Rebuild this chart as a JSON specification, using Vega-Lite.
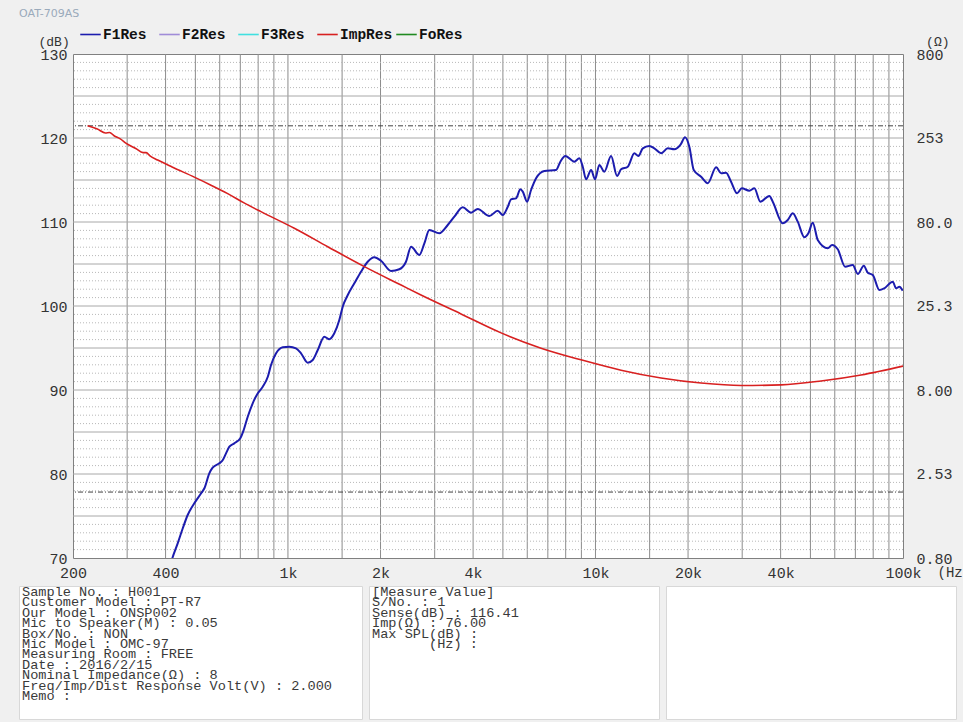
{
  "$schema": "https://vega.github.io/schema/vega-lite/v6.json",
  "background": "#f0f0f0",
  "padding": {"left": 18, "top": 7, "right": 0, "bottom": 2},
  "title": {"text": "OAT-709AS", "anchor": "start", "frame": "group", "font": "DejaVu Sans", "fontSize": 11, "fontWeight": "normal", "color": "#9aaabb", "offset": 4},
  "config": {
    "font": "Liberation Mono",
    "view": {"stroke": null},
    "axis": {"grid": false, "ticks": false, "domain": false, "labelFont": "Liberation Mono", "labelFontSize": 15, "labelColor": "#333333", "titleFont": "Liberation Mono", "titleFontSize": 13, "titleColor": "#333333", "titleFontWeight": "normal"}
  },
  "datasets": {
    "f1": [
      {"f": 410, "db": 68.5, "s": "F1Res"}, {"f": 421, "db": 70.0, "s": "F1Res"}, {"f": 438, "db": 71.75, "s": "F1Res"}, {"f": 455, "db": 73.54, "s": "F1Res"}, {"f": 472, "db": 75.12, "s": "F1Res"}, {"f": 496, "db": 76.51, "s": "F1Res"}, {"f": 522, "db": 77.7, "s": "F1Res"}, {"f": 535, "db": 78.3, "s": "F1Res"}, {"f": 555, "db": 80.08, "s": "F1Res"}, {"f": 569, "db": 80.75, "s": "F1Res"}, {"f": 598, "db": 81.27, "s": "F1Res"}, {"f": 614, "db": 81.67, "s": "F1Res"}, {"f": 629, "db": 82.46, "s": "F1Res"}, {"f": 645, "db": 83.25, "s": "F1Res"}, {"f": 669, "db": 83.65, "s": "F1Res"}, {"f": 700, "db": 84.25, "s": "F1Res"}, {"f": 718, "db": 85.24, "s": "F1Res"}, {"f": 740, "db": 86.82, "s": "F1Res"}, {"f": 768, "db": 88.42, "s": "F1Res"}, {"f": 798, "db": 89.61, "s": "F1Res"}, {"f": 828, "db": 90.39, "s": "F1Res"}, {"f": 860, "db": 91.58, "s": "F1Res"}, {"f": 881, "db": 92.98, "s": "F1Res"}, {"f": 915, "db": 94.37, "s": "F1Res"}, {"f": 962, "db": 95.08, "s": "F1Res"}, {"f": 1010, "db": 95.15, "s": "F1Res"}, {"f": 1062, "db": 94.96, "s": "F1Res"}, {"f": 1103, "db": 94.37, "s": "F1Res"}, {"f": 1160, "db": 93.25, "s": "F1Res"}, {"f": 1204, "db": 93.57, "s": "F1Res"}, {"f": 1250, "db": 94.76, "s": "F1Res"}, {"f": 1313, "db": 96.35, "s": "F1Res"}, {"f": 1363, "db": 96.04, "s": "F1Res"}, {"f": 1415, "db": 96.75, "s": "F1Res"}, {"f": 1469, "db": 98.33, "s": "F1Res"}, {"f": 1507, "db": 99.92, "s": "F1Res"}, {"f": 1565, "db": 101.31, "s": "F1Res"}, {"f": 1644, "db": 102.7, "s": "F1Res"}, {"f": 1728, "db": 104.08, "s": "F1Res"}, {"f": 1817, "db": 105.27, "s": "F1Res"}, {"f": 1909, "db": 105.8, "s": "F1Res"}, {"f": 2007, "db": 105.39, "s": "F1Res"}, {"f": 2164, "db": 104.17, "s": "F1Res"}, {"f": 2302, "db": 104.37, "s": "F1Res"}, {"f": 2420, "db": 105.27, "s": "F1Res"}, {"f": 2514, "db": 107.06, "s": "F1Res"}, {"f": 2675, "db": 106.07, "s": "F1Res"}, {"f": 2777, "db": 107.46, "s": "F1Res"}, {"f": 2882, "db": 109.05, "s": "F1Res"}, {"f": 3106, "db": 108.65, "s": "F1Res"}, {"f": 3308, "db": 109.64, "s": "F1Res"}, {"f": 3476, "db": 110.63, "s": "F1Res"}, {"f": 3702, "db": 111.75, "s": "F1Res"}, {"f": 3940, "db": 111.11, "s": "F1Res"}, {"f": 4141, "db": 111.55, "s": "F1Res"}, {"f": 4517, "db": 110.71, "s": "F1Res"}, {"f": 4811, "db": 111.35, "s": "F1Res"}, {"f": 4994, "db": 110.83, "s": "F1Res"}, {"f": 5186, "db": 111.82, "s": "F1Res"}, {"f": 5315, "db": 112.7, "s": "F1Res"}, {"f": 5518, "db": 112.82, "s": "F1Res"}, {"f": 5698, "db": 113.89, "s": "F1Res"}, {"f": 5802, "db": 113.61, "s": "F1Res"}, {"f": 5992, "db": 112.42, "s": "F1Res"}, {"f": 6174, "db": 113.81, "s": "F1Res"}, {"f": 6410, "db": 115.2, "s": "F1Res"}, {"f": 6820, "db": 116.07, "s": "F1Res"}, {"f": 7444, "db": 116.19, "s": "F1Res"}, {"f": 7688, "db": 117.18, "s": "F1Res"}, {"f": 7981, "db": 117.86, "s": "F1Res"}, {"f": 8536, "db": 117.18, "s": "F1Res"}, {"f": 8862, "db": 117.58, "s": "F1Res"}, {"f": 9092, "db": 116.58, "s": "F1Res"}, {"f": 9321, "db": 115.08, "s": "F1Res"}, {"f": 9677, "db": 116.19, "s": "F1Res"}, {"f": 9970, "db": 115.08, "s": "F1Res"}, {"f": 10294, "db": 116.79, "s": "F1Res"}, {"f": 10688, "db": 115.99, "s": "F1Res"}, {"f": 11238, "db": 117.86, "s": "F1Res"}, {"f": 11755, "db": 115.48, "s": "F1Res"}, {"f": 12112, "db": 116.27, "s": "F1Res"}, {"f": 12736, "db": 116.58, "s": "F1Res"}, {"f": 13382, "db": 118.18, "s": "F1Res"}, {"f": 13789, "db": 117.86, "s": "F1Res"}, {"f": 14250, "db": 118.77, "s": "F1Res"}, {"f": 14970, "db": 119.05, "s": "F1Res"}, {"f": 15542, "db": 118.77, "s": "F1Res"}, {"f": 16342, "db": 118.18, "s": "F1Res"}, {"f": 17180, "db": 118.77, "s": "F1Res"}, {"f": 18050, "db": 118.65, "s": "F1Res"}, {"f": 18883, "db": 119.17, "s": "F1Res"}, {"f": 19555, "db": 120.08, "s": "F1Res"}, {"f": 20194, "db": 118.96, "s": "F1Res"}, {"f": 20870, "db": 116.19, "s": "F1Res"}, {"f": 22048, "db": 115.39, "s": "F1Res"}, {"f": 23181, "db": 114.61, "s": "F1Res"}, {"f": 24677, "db": 116.51, "s": "F1Res"}, {"f": 25615, "db": 115.8, "s": "F1Res"}, {"f": 26589, "db": 115.87, "s": "F1Res"}, {"f": 27600, "db": 114.8, "s": "F1Res"}, {"f": 28874, "db": 113.42, "s": "F1Res"}, {"f": 29905, "db": 114.01, "s": "F1Res"}, {"f": 31647, "db": 113.73, "s": "F1Res"}, {"f": 32856, "db": 114.01, "s": "F1Res"}, {"f": 34366, "db": 112.42, "s": "F1Res"}, {"f": 36768, "db": 113.1, "s": "F1Res"}, {"f": 37713, "db": 112.42, "s": "F1Res"}, {"f": 40640, "db": 109.85, "s": "F1Res"}, {"f": 42200, "db": 110.24, "s": "F1Res"}, {"f": 43810, "db": 111.04, "s": "F1Res"}, {"f": 45470, "db": 110.04, "s": "F1Res"}, {"f": 47790, "db": 108.18, "s": "F1Res"}, {"f": 49240, "db": 108.65, "s": "F1Res"}, {"f": 50890, "db": 109.92, "s": "F1Res"}, {"f": 52820, "db": 107.86, "s": "F1Res"}, {"f": 56940, "db": 106.87, "s": "F1Res"}, {"f": 58800, "db": 107.26, "s": "F1Res"}, {"f": 61360, "db": 106.75, "s": "F1Res"}, {"f": 64820, "db": 104.68, "s": "F1Res"}, {"f": 68660, "db": 104.88, "s": "F1Res"}, {"f": 71290, "db": 103.81, "s": "F1Res"}, {"f": 74560, "db": 104.8, "s": "F1Res"}, {"f": 76830, "db": 103.96, "s": "F1Res"}, {"f": 79760, "db": 103.69, "s": "F1Res"}, {"f": 83780, "db": 101.9, "s": "F1Res"}, {"f": 86980, "db": 102.11, "s": "F1Res"}, {"f": 92640, "db": 102.89, "s": "F1Res"}, {"f": 94950, "db": 102.11, "s": "F1Res"}, {"f": 97340, "db": 102.3, "s": "F1Res"}, {"f": 99800, "db": 101.82, "s": "F1Res"}
    ],
    "imp": [
      {"f": 223, "ohm": 299, "s": "ImpRes"}, {"f": 240, "ohm": 286, "s": "ImpRes"}, {"f": 255, "ohm": 271, "s": "ImpRes"}, {"f": 263, "ohm": 273, "s": "ImpRes"}, {"f": 272, "ohm": 261, "s": "ImpRes"}, {"f": 285, "ohm": 250, "s": "ImpRes"}, {"f": 297, "ohm": 236, "s": "ImpRes"}, {"f": 320, "ohm": 219, "s": "ImpRes"}, {"f": 338, "ohm": 207, "s": "ImpRes"}, {"f": 346, "ohm": 207, "s": "ImpRes"}, {"f": 356, "ohm": 198, "s": "ImpRes"}, {"f": 377, "ohm": 187, "s": "ImpRes"}, {"f": 420, "ohm": 170, "s": "ImpRes"}, {"f": 496, "ohm": 148, "s": "ImpRes"}, {"f": 560, "ohm": 133, "s": "ImpRes"}, {"f": 637, "ohm": 118, "s": "ImpRes"}, {"f": 720, "ohm": 104, "s": "ImpRes"}, {"f": 817, "ohm": 92.2, "s": "ImpRes"}, {"f": 1049, "ohm": 73.4, "s": "ImpRes"}, {"f": 1347, "ohm": 57.0, "s": "ImpRes"}, {"f": 1772, "ohm": 43.4, "s": "ImpRes"}, {"f": 2333, "ohm": 33.7, "s": "ImpRes"}, {"f": 2708, "ohm": 29.4, "s": "ImpRes"}, {"f": 3654, "ohm": 22.7, "s": "ImpRes"}, {"f": 4932, "ohm": 17.5, "s": "ImpRes"}, {"f": 6654, "ohm": 14.2, "s": "ImpRes"}, {"f": 8974, "ohm": 12.1, "s": "ImpRes"}, {"f": 12112, "ohm": 10.5, "s": "ImpRes"}, {"f": 16342, "ohm": 9.43, "s": "ImpRes"}, {"f": 22048, "ohm": 8.8, "s": "ImpRes"}, {"f": 29740, "ohm": 8.51, "s": "ImpRes"}, {"f": 40140, "ohm": 8.58, "s": "ImpRes"}, {"f": 54140, "ohm": 9.05, "s": "ImpRes"}, {"f": 73040, "ohm": 9.83, "s": "ImpRes"}, {"f": 100000, "ohm": 11.1, "s": "ImpRes"}
    ]
  },
  "concat": [
    {
      "hconcat": [
        {
          "width": 18,
          "height": 1,
          "data": {"values": [{"t": ""}]},
          "mark": {"type": "text"},
          "encoding": {"text": {"field": "t"}}
        },
        {
          "width": 830,
          "height": 504,
          "view": {"fill": "white", "stroke": "#808080"},
          "layer": [
            {
              "layer": [
                {
                  "data": {"values": [{"f": 300}, {"f": 400}, {"f": 500}, {"f": 600}, {"f": 700}, {"f": 800}, {"f": 900}, {"f": 1000}, {"f": 1500}, {"f": 2000}, {"f": 3000}, {"f": 4000}, {"f": 5000}, {"f": 6000}, {"f": 7000}, {"f": 8000}, {"f": 9000}, {"f": 10000}, {"f": 15000}, {"f": 20000}, {"f": 30000}, {"f": 40000}, {"f": 50000}, {"f": 60000}, {"f": 70000}, {"f": 80000}, {"f": 90000}]},
                  "mark": {"type": "rule", "color": "#8c8c8c", "strokeWidth": 1},
                  "encoding": {"x": {"field": "f", "type": "quantitative", "scale": {"type": "log", "domain": [200, 100000], "nice": false}}}
                },
                {
                  "data": {"values": [{"db": 71}, {"db": 72}, {"db": 73}, {"db": 74}, {"db": 76}, {"db": 77}, {"db": 78}, {"db": 79}, {"db": 81}, {"db": 82}, {"db": 83}, {"db": 84}, {"db": 86}, {"db": 87}, {"db": 88}, {"db": 89}, {"db": 91}, {"db": 92}, {"db": 93}, {"db": 94}, {"db": 96}, {"db": 97}, {"db": 98}, {"db": 99}, {"db": 101}, {"db": 102}, {"db": 103}, {"db": 104}, {"db": 106}, {"db": 107}, {"db": 108}, {"db": 109}, {"db": 111}, {"db": 112}, {"db": 113}, {"db": 114}, {"db": 116}, {"db": 117}, {"db": 118}, {"db": 119}, {"db": 121}, {"db": 122}, {"db": 123}, {"db": 124}, {"db": 126}, {"db": 127}, {"db": 128}, {"db": 129}]},
                  "mark": {"type": "rule", "color": "#b8b8b8", "strokeWidth": 1, "strokeDash": [1, 2]},
                  "encoding": {"y": {"field": "db", "type": "quantitative", "scale": {"domain": [70, 130], "nice": false, "zero": false}}}
                },
                {
                  "data": {"values": [{"db": 75}, {"db": 80}, {"db": 85}, {"db": 90}, {"db": 95}, {"db": 100}, {"db": 105}, {"db": 110}, {"db": 115}, {"db": 120}, {"db": 125}]},
                  "mark": {"type": "rule", "color": "#a8a8a8", "strokeWidth": 1},
                  "encoding": {"y": {"field": "db", "type": "quantitative", "scale": {"domain": [70, 130], "nice": false, "zero": false}}}
                },
                {
                  "data": {"values": [{"db": 121.45}, {"db": 77.85}]},
                  "mark": {"type": "rule", "color": "#404040", "strokeWidth": 1, "strokeDash": [5, 2, 1, 2]},
                  "encoding": {"y": {"field": "db", "type": "quantitative", "scale": {"domain": [70, 130], "nice": false, "zero": false}}}
                },
                {
                  "data": {"name": "f1"},
                  "mark": {"type": "line", "strokeWidth": 2, "clip": true, "interpolate": "monotone"},
                  "encoding": {
                    "x": {"field": "f", "type": "quantitative", "scale": {"type": "log", "domain": [200, 100000], "nice": false},
                      "axis": {"values": [200, 400, 1000, 2000, 4000, 10000, 20000, 40000, 100000], "labelExpr": "datum.value >= 1000 ? (datum.value / 1000) + 'k' : '' + datum.value", "labelPadding": 7, "labelFlush": false, "labelOverlap": false, "title": "(Hz", "titleX": 864, "titleY": 14, "titleAlign": "left", "titleBaseline": "middle", "titleFontSize": 14}},
                    "y": {"field": "db", "type": "quantitative", "scale": {"domain": [70, 130], "nice": false, "zero": false},
                      "axis": {"values": [70, 80, 90, 100, 110, 120, 130], "labelPadding": 6, "labelOverlap": false, "title": "(dB)", "titleAngle": 0, "titleX": -35, "titleY": -13, "titleAlign": "left", "titleBaseline": "middle"}},
                    "color": {"field": "s", "type": "nominal",
                      "scale": {"domain": ["F1Res", "F2Res", "F3Res", "ImpRes", "FoRes"], "range": ["#1c1cae", "#a08cd8", "#40e0e0", "#d82020", "#208a20"]},
                      "legend": {"title": null, "orient": "none", "legendX": 6, "legendY": -31, "direction": "horizontal", "columns": 5, "gridAlign": "all", "columnPadding": 0, "symbolType": "stroke", "symbolSize": 420, "symbolStrokeWidth": 1.6, "labelFont": "Liberation Mono", "labelFontWeight": "bold", "labelFontSize": 14.5, "labelColor": "#111111", "labelOffset": 1, "padding": 0}}
                  }
                }
              ]
            },
            {
              "data": {"name": "imp"},
              "mark": {"type": "line", "strokeWidth": 1.6, "clip": true, "interpolate": "monotone"},
              "encoding": {
                "x": {"field": "f", "type": "quantitative", "scale": {"type": "log", "domain": [200, 100000], "nice": false}},
                "y": {"field": "ohm", "type": "quantitative", "scale": {"type": "log", "domain": [0.8, 800], "nice": false},
                  "axis": {"orient": "right", "values": [0.8, 2.53, 8, 25.3, 80, 253, 800], "labelExpr": "datum.value < 1 ? '0.80' : format(datum.value, '.3r')", "labelAlign": "left", "labelPadding": 13, "labelOverlap": false, "title": "(Ω)", "titleAngle": 0, "titleX": 46, "titleY": -13, "titleAlign": "right", "titleBaseline": "middle"}},
                "color": {"field": "s", "type": "nominal", "scale": {"domain": ["F1Res", "F2Res", "F3Res", "ImpRes", "FoRes"], "range": ["#1c1cae", "#a08cd8", "#40e0e0", "#d82020", "#208a20"]}}
              }
            }
          ],
          "resolve": {"scale": {"y": "independent"}}
        }
      ],
      "spacing": 0,
      "resolve": {"scale": {"color": "independent"}, "legend": {"color": "independent"}}
    },
    {
      "hconcat": [
        {
          "width": 343,
          "height": 133,
          "view": {"fill": "white", "stroke": "#d8d8d8"},
          "data": {"values": [
            {"n": 1, "t": "Sample No. : H001"},
            {"n": 2, "t": "Customer Model : PT-R7"},
            {"n": 3, "t": "Our Model : ONSP002"},
            {"n": 4, "t": "Mic to Speaker(M) : 0.05"},
            {"n": 5, "t": "Box/No. : NON"},
            {"n": 6, "t": "Mic Model : OMC-97"},
            {"n": 7, "t": "Measuring Room : FREE"},
            {"n": 8, "t": "Date : 2016/2/15"},
            {"n": 9, "t": "Nominal Impedance(Ω) : 8"},
            {"n": 10, "t": "Freq/Imp/Dist Response Volt(V) : 2.000"},
            {"n": 11, "t": "Memo :"}
          ]},
          "mark": {"type": "text", "align": "left", "baseline": "middle", "dx": 3, "font": "Liberation Mono", "fontSize": 13.6, "color": "#3a3a3a"},
          "encoding": {
            "x": {"datum": 0, "type": "quantitative", "scale": {"domain": [0, 1]}, "axis": null},
            "y": {"field": "n", "type": "quantitative", "scale": {"domain": [0.423, 13.21], "reverse": true, "nice": false, "zero": false}, "axis": null},
            "text": {"field": "t"}
          }
        },
        {
          "width": 290,
          "height": 133,
          "view": {"fill": "white", "stroke": "#d8d8d8"},
          "data": {"values": [
            {"n": 1, "t": "[Measure Value]", "k": "head"},
            {"n": 2, "t": "S/No. : 1", "k": "head"},
            {"n": 3, "t": "Sense(dB) : 116.41", "k": "head"},
            {"n": 4, "t": "Imp(Ω) : 76.00", "k": "head"},
            {"n": 5, "t": "Max SPL(dB) :", "k": "head"},
            {"n": 6, "t": "(Hz) :", "k": "sub"}
          ]},
          "layer": [
            {
              "transform": [{"filter": "datum.k === 'head'"}],
              "mark": {"type": "text", "align": "left", "baseline": "middle", "dx": 3, "font": "Liberation Mono", "fontSize": 13.6, "color": "#3a3a3a"},
              "encoding": {
                "x": {"datum": 0, "type": "quantitative", "scale": {"domain": [0, 1]}, "axis": null},
                "y": {"field": "n", "type": "quantitative", "scale": {"domain": [0.423, 13.21], "reverse": true, "nice": false, "zero": false}, "axis": null},
                "text": {"field": "t"}
              }
            },
            {
              "transform": [{"filter": "datum.k === 'sub'"}],
              "mark": {"type": "text", "align": "left", "baseline": "middle", "dx": 60, "font": "Liberation Mono", "fontSize": 13.6, "color": "#3a3a3a"},
              "encoding": {
                "x": {"datum": 0, "type": "quantitative", "scale": {"domain": [0, 1]}, "axis": null},
                "y": {"field": "n", "type": "quantitative", "scale": {"domain": [0.423, 13.21], "reverse": true, "nice": false, "zero": false}, "axis": null},
                "text": {"field": "t"}
              }
            }
          ]
        },
        {
          "width": 290,
          "height": 133,
          "view": {"fill": "white", "stroke": "#d8d8d8"},
          "data": {"values": [{"n": 1, "t": ""}]},
          "mark": {"type": "text", "align": "left", "baseline": "middle"},
          "encoding": {
            "x": {"datum": 0, "type": "quantitative", "scale": {"domain": [0, 1]}, "axis": null},
            "y": {"field": "n", "type": "quantitative", "scale": {"domain": [0.423, 13.21], "reverse": true, "nice": false, "zero": false}, "axis": null},
            "text": {"field": "t"}
          }
        }
      ],
      "spacing": 7,
      "bounds": "flush"
    }
  ],
  "columns": 1,
  "spacing": 3,
  "resolve": {"scale": {"color": "independent"}, "legend": {"color": "independent"}}
}
